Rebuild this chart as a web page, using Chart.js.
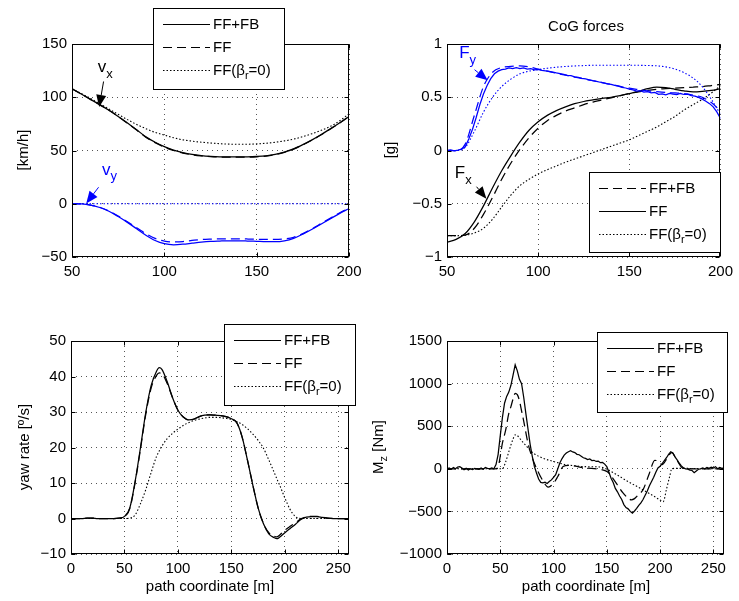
<!DOCTYPE html>
<html>
<head>
<meta charset="utf-8">
<script src="https://cdn.jsdelivr.net/npm/chart.js@4.4.0/dist/chart.umd.min.js"></script>
<style>
  html, body { margin: 0; padding: 0; background: #fff; }
  #fig { position: relative; width: 739px; height: 601px; overflow: hidden; background: #fff; }
  #fig canvas { position: absolute; }
</style>
</head>
<body>
<div id="fig">
  <canvas id="speed"  width="369" height="300" style="left:0;top:0"></canvas>
  <canvas id="forces" width="369" height="300" style="left:370px;top:0"></canvas>
  <canvas id="yaw"    width="369" height="300" style="left:0;top:300px"></canvas>
  <canvas id="moment" width="369" height="301" style="left:370px;top:300px"></canvas>
</div>
<script>
// ---------- path coordinates [m] ----------
const sTop = [50,55,60,65,70,75,80,85,90,95,100,105,110,115,120,125,130,135,140,145,150,155,160,165,170,175,180,185,190,195,200];

const sFine = [
  50,52,54,56,58,60,62,64,66,68,
  70,72,74,76,78,80,82,84,86,88,
  90,92,94,96,98,100,102,104,106,108,
  110,112,114,116,118,120,122,124,126,128,
  130,132,134,136,138,140,142,144,146,148,
  150,152,154,156,158,160,162,164,166,168,
  170,172,174,176,178,180,182,184,186,188,
  190,192,194,196,198,200
];

// ---------- vehicle speeds [km/h] ----------
const vxFFFB = [108,103,98,93,87.8,82,75.8,69.5,62.8,57.8,53.6,50.4,48,46.3,45.2,44.5,44.1,44,44,44.1,44.4,45,46.3,48.5,51.5,55.5,60,65,70.5,76,82];
const vxFF   = [108,103,98,93,87.8,82,75.6,69.2,62.5,57.4,53.2,50,47.6,46,44.9,44.2,43.8,43.7,43.7,43.8,44.1,44.8,46.1,48.3,51.3,55.3,59.8,64.8,70.3,75.8,81.8];
const vxFF0  = [108,103.5,99,94,89,84,79,74.5,70.5,67,64.5,62,60,58.8,57.8,57,56.4,56,55.8,55.9,56.2,56.8,57.7,59,60.7,63,65.8,69,72.7,78,84.5];
const vyFFFB = [0,-0.2,-1.2,-3.5,-7,-12,-17.5,-23.5,-29.5,-34.5,-37.5,-38.5,-38,-37,-36,-35.3,-35,-34.8,-34.8,-35,-35.3,-35.6,-35.6,-34.8,-32.5,-28.5,-24,-19,-14,-9,-4.5];
const vyFF   = [0,-0.2,-1.2,-3.3,-6.8,-11.5,-17,-22.5,-28,-32.5,-35,-35.8,-35.5,-34.5,-33.6,-33.2,-33,-33,-33,-33.1,-33.3,-33.5,-33.5,-33,-31.5,-28,-23.5,-18.5,-13.5,-8.5,-4];
const vyFF0  = [0,0,0,0,0,0,0,0,0,0,0,0,0,0,0,0,0,0,0,0,0,0,0,0,0,0,0,0,0,0,0];

// ---------- CoG forces [g] ----------
const FyFFFB = [0,0,0.06,0.33,0.6,0.735,0.78,0.79,0.795,0.785,0.765,0.745,0.725,0.707,0.69,0.672,0.655,0.637,0.62,0.602,0.585,0.572,0.56,0.552,0.545,0.54,0.535,0.52,0.5,0.45,0.37];
const FyFF = [
  0.000,0.006,-0.004,0.003,0.012,0.035,0.110,0.200,0.310,0.430,
  0.530,0.610,0.675,0.720,0.745,0.760,0.765,0.775,0.768,0.778,
  0.770,0.775,0.765,0.768,0.758,0.762,0.752,0.748,0.742,0.735,
  0.728,0.722,0.715,0.706,0.702,0.692,0.686,0.678,0.672,0.664,
  0.656,0.650,0.641,0.636,0.626,0.620,0.611,0.604,0.593,0.587,
  0.576,0.570,0.558,0.562,0.548,0.552,0.541,0.546,0.527,0.532,
  0.522,0.536,0.530,0.524,0.535,0.526,0.530,0.516,0.510,0.499,
  0.482,0.462,0.440,0.410,0.362,0.300
];
const FyFF0  = [0,0,0.03,0.18,0.36,0.5,0.6,0.67,0.72,0.745,0.76,0.772,0.782,0.789,0.794,0.797,0.8,0.8,0.8,0.8,0.8,0.8,0.798,0.795,0.785,0.765,0.73,0.68,0.6,0.48,0.34];
const FxFFFB = [-0.8,-0.8,-0.795,-0.73,-0.6,-0.44,-0.27,-0.12,0.01,0.12,0.21,0.28,0.33,0.37,0.4,0.43,0.455,0.475,0.495,0.515,0.535,0.55,0.565,0.575,0.58,0.585,0.59,0.595,0.6,0.61,0.62];
const FxFF   = [-0.86,-0.835,-0.78,-0.67,-0.52,-0.35,-0.19,-0.05,0.08,0.19,0.27,0.33,0.375,0.41,0.44,0.46,0.475,0.49,0.5,0.515,0.535,0.555,0.58,0.595,0.59,0.575,0.56,0.55,0.555,0.565,0.58];
const FxFF0  = [-0.8,-0.8,-0.795,-0.775,-0.73,-0.645,-0.53,-0.42,-0.33,-0.27,-0.22,-0.18,-0.145,-0.11,-0.08,-0.05,-0.02,0.01,0.04,0.07,0.1,0.14,0.18,0.22,0.27,0.32,0.38,0.43,0.48,0.54,0.61];

// ---------- yaw rate [º/s] ----------
const sYaw = [0,5,10,15,20,25,30,35,40,45,50,55,60,65,70,75,80,82.5,85,90,95,100,105,110,115,120,125,130,135,140,145,150,155,160,165,170,175,180,185,190,192.5,195,200,205,210,215,220,225,230,235,240,245,250,255,260];
const yawFFFB = [0,0,0,0.1,0.1,0,0,0,0,0.1,0.6,3,10.5,20,30,37.5,41.5,42.5,42,38.5,34,30.5,28.6,27.8,28,28.7,29.1,29.2,29.1,29,28.7,28.1,27,23,16.5,9.5,3,-1.5,-4.3,-5.4,-5.7,-5.3,-4,-2.8,-1.6,-0.3,0.4,0.5,0.5,0.3,0.1,0,0,0,0];
const yawFF   = [0,0,0,0.1,0.1,0,0,0,0,0.1,0.5,2.8,10.2,19.6,29.5,36.8,40.3,41,40.8,38,34,30.5,28.6,27.8,28,28.7,29.1,29.2,29.1,29,28.7,28.1,27,23,16.5,9.5,3,-1.4,-4,-5,-5.2,-4.7,-3.3,-2.2,-1.2,-0.1,0.4,0.6,0.6,0.4,0.1,0,0,0,0];
const yawFF0  = [0,0,0,0,0,0,0,0,0,0,0,0.1,1,4.2,8.2,13,17.5,19,20.4,22.5,24,25.2,26.2,27,27.6,28,28.3,28.5,28.5,28.4,28.2,27.9,27.3,26.5,25.3,23.8,22,19.8,16.5,13,11.2,9.5,5.8,2.5,0.5,0,0,0,0,0,0,0,0,0,0];

// ---------- yaw moment M_z [Nm] ----------
const sMz = [
  0,2,4,6,8,10,12,14,16,18,
  20,22,24,26,28,30,32,34,36,38,
  40,42,44,46,48,50,52,54,56,58,
  60,62,64,66,68,70,72,74,76,78,
  80,82,84,86,88,90,92,94,96,98,
  100,102,104,106,108,110,112,114,116,118,
  120,122,124,126,128,130,132,134,136,138,
  140,142,144,146,148,150,152,154,156,158,
  160,162,164,166,168,170,172,174,176,178,
  180,182,184,186,188,190,192,194,196,198,
  200,202,204,206,208,210,212,214,216,218,
  220,222,224,226,228,230,232,234,236,238,
  240,242,244,246,248,250,252,254,256,258,
  260
];
const MzFFFB = [
  0,10,-5,15,0,20,25,10,-10,5,
  -15,0,-10,5,0,-5,10,-5,15,5,
  0,10,0,50,170,390,600,770,850,900,
  980,1100,1220,1150,1050,1000,840,650,470,290,
  150,30,-50,-120,-160,-165,-158,-172,-150,-130,
  -100,-70,0,70,120,160,185,200,212,198,
  190,170,165,148,130,122,108,115,96,100,
  86,90,72,74,55,25,-40,-110,-160,-230,
  -270,-320,-360,-420,-455,-470,-500,-520,-495,-465,
  -430,-400,-360,-310,-260,-200,-150,-100,-40,10,
  30,60,95,130,170,200,185,140,105,65,
  35,10,0,-5,-15,-20,-45,-25,-5,0,
  10,0,15,5,20,10,25,0,15,5,
  10
];
const sMzFF = [0,45,48,50,52,55,58,60,62,64,66,68,70,72,76,80,85,90,95,100,104,109,114,130,150,155,160,165,170,173,176,180,184,190,195,198,202,206,211,215,220,225,260];
const MzFF  = [0,0,20,150,300,450,650,730,820,885,870,800,680,560,300,130,-20,-140,-215,-170,-90,27,40,10,-30,-100,-190,-280,-345,-365,-350,-300,-246,-51,100,90,50,110,190,120,20,0,0];
const sMzFF0 = [0,52,55,58,60,62,64,66,70,75,81,90,100,112,120,130,143,150,162,170,181,190,196,201,203,206,209,211,215,260];
const MzFF0  = [0,0,80,200,280,350,398,390,330,260,184,125,86,47,35,25,22,-5,-90,-150,-226,-290,-335,-375,-385,-240,-90,0,5,0];

// ---------- axis ticks ----------
const speedTicks  = [-50, 150, 50];
const forceTicks  = [-1, 1, 0.5];
const yawTicks    = [-10, 50, 10];
const momentTicks = [-1000, 1500, 500];
const topPathTicks = [50, 200, 50];
const pathTicks    = [0, 260, 50];

// ---------- styling ----------
const FONT = '"Liberation Sans", Arial, Helvetica, sans-serif';
const BLACK = '#000000', BLUE = '#0000ff';
const SOLID = [], DASHED = [9, 5], DOTTED = [1.5, 2];

Chart.defaults.font.family = FONT;
Chart.defaults.font.size = 15;
Chart.defaults.color = '#000';

function pts(xs, ys) { return xs.map((x, i) => ({ x: x, y: ys[i] })); }

function line(label, xs, ys, color, dash, smooth) {
  return {
    label: label, data: pts(xs, ys),
    borderColor: color, borderWidth: dash === DOTTED ? 1.1 : 1.25, borderDash: dash,
    pointRadius: 0, fill: false,
    cubicInterpolationMode: smooth ? 'monotone' : 'default',
    tension: 0
  };
}

const minusSign = v => String(v).replace('-', '\u2212');

function axis(range, fixed, isX, pad) {
  return {
    type: 'linear', min: range[0], max: range[1],
    ticks: { stepSize: range[2], includeBounds: false, autoSkip: false, maxRotation: 0,
             padding: pad, callback: minusSign, color: '#000', font: { size: 15 } },
    grid: { color: '#555555', lineWidth: 1, drawTicks: false },
    border: { display: false, dash: [1, 4] },
    afterFit: s => { if (isX) s.height = fixed; else s.width = fixed; }
  };
}

// ---------- text with one-letter subscripts written as "_x" ----------
function richParts(str) {
  const parts = []; let buf = '';
  for (let i = 0; i < str.length; i++) {
    if (str[i] === '_' && i + 1 < str.length) {
      if (buf) { parts.push({ t: buf }); buf = ''; }
      parts.push({ t: str[i + 1], sub: true }); i++;
    } else buf += str[i];
  }
  if (buf) parts.push({ t: buf });
  return parts;
}
function drawRich(ctx, str, x, y, size, color, align, subDrop) {
  const parts = richParts(str);
  const subSize = Math.round(size * 0.75);
  let w = 0;
  parts.forEach(p => { ctx.font = (p.sub ? subSize : size) + 'px ' + FONT; p.w = ctx.measureText(p.t).width; w += p.w; });
  let cx = align === 'center' ? x - w / 2 : (align === 'right' ? x - w : x);
  ctx.fillStyle = color; ctx.textBaseline = 'middle'; ctx.textAlign = 'left';
  parts.forEach(p => {
    ctx.font = (p.sub ? subSize : size) + 'px ' + FONT;
    ctx.fillText(p.t, cx, y + (p.sub ? (subDrop || size * 0.4) : 0));
    cx += p.w;
  });
}

// ---------- frame, legend, labels and arrows per panel ----------
const DECO = {
  speed: {
    legend: { x: 153, y: 8, w: 132, h: 82, items: [0, 1, 2] },
    yTitle: { text: '[km/h]', x: 24, y: 150 },
    notes: [
      { text: 'v_x', color: BLACK, at: [63.9, 127.7], from: [67.1, 114.8], to: [64.7, 90.8] },
      { text: 'v_y', color: BLUE,  at: [66.2, 31.8],  from: [64.4, 15.5],  to: [57.7, 0.3] }
    ]
  },
  forces: {
    title: { text: 'CoG forces', x: 216, y: 27 },
    legend: { x: 219, y: 172, w: 132, h: 81, items: [3, 4, 5] },
    yTitle: { text: '[g]', x: 21, y: 150 },
    notes: [
      { text: 'F_y', color: BLUE,  at: [56.7, 0.913], from: [65.1, 0.759], to: [72.3, 0.659] },
      { text: 'F_x', color: BLACK, at: [54.3, -0.212], from: [66.2, -0.34], to: [71.6, -0.452] }
    ]
  },
  yaw: {
    legend: { x: 224, y: 24, w: 132, h: 82, items: [0, 1, 2] },
    yTitle: { text: 'yaw rate [º/s]', x: 25, y: 147 },
    xTitle: { text: 'path coordinate [m]', x: 210, y: 287 },
    notes: []
  },
  moment: {
    legend: { x: 227, y: 32, w: 131, h: 81, items: [0, 1, 2] },
    yTitle: { text: 'M_z [Nm]', x: 9, y: 147 },
    xTitle: { text: 'path coordinate [m]', x: 216, y: 287 },
    notes: []
  }
};

function arrow(ctx, x0, y0, x1, y1, color) {
  const ang = Math.atan2(y1 - y0, x1 - x0), len = 12, half = 5;
  const bx = x1 - len * Math.cos(ang), by = y1 - len * Math.sin(ang);
  ctx.strokeStyle = color; ctx.fillStyle = color; ctx.lineWidth = 1; ctx.setLineDash([]);
  ctx.beginPath(); ctx.moveTo(x0, y0); ctx.lineTo(bx, by); ctx.stroke();
  ctx.beginPath();
  ctx.moveTo(x1, y1);
  ctx.lineTo(bx + half * Math.sin(ang), by - half * Math.cos(ang));
  ctx.lineTo(bx - half * Math.sin(ang), by + half * Math.cos(ang));
  ctx.closePath(); ctx.fill();
}

const decoPlugin = {
  id: 'deco',
  afterDatasetsDraw(chart) {
    const d = DECO[chart.canvas.id]; if (!d) return;
    const ctx = chart.ctx, a = chart.chartArea, xs = chart.scales.x, ys = chart.scales.y;
    const px = v => xs.getPixelForValue(v), py = v => ys.getPixelForValue(v);
    ctx.save();

    // arrows with their labels
    d.notes.forEach(n => {
      arrow(ctx, px(n.from[0]), py(n.from[1]), px(n.to[0]), py(n.to[1]), n.color);
      drawRich(ctx, n.text, px(n.at[0]), py(n.at[1]), 17, n.color, 'left', 7);
    });

    // axes box with inward ticks
    const L = Math.round(a.left) + 0.5, R = Math.round(a.right) - 0.5;
    const T = Math.round(a.top) + 0.5, B = Math.round(a.bottom) - 0.5;
    ctx.setLineDash([]); ctx.strokeStyle = '#000'; ctx.lineWidth = 1;
    ctx.strokeRect(L, T, R - L, B - T);
    ctx.beginPath();
    xs.ticks.forEach(t => {
      const p = Math.round(px(t.value)) + 0.5;
      ctx.moveTo(p, B); ctx.lineTo(p, B - 4); ctx.moveTo(p, T); ctx.lineTo(p, T + 4);
    });
    ys.ticks.forEach(t => {
      const p = Math.round(py(t.value)) + 0.5;
      ctx.moveTo(L, p); ctx.lineTo(L + 4, p); ctx.moveTo(R, p); ctx.lineTo(R - 4, p);
    });
    ctx.stroke();

    // legend box
    const lg = d.legend;
    ctx.fillStyle = '#fff';
    ctx.fillRect(lg.x, lg.y, lg.w, lg.h);
    ctx.strokeStyle = '#000'; ctx.lineWidth = 1;
    ctx.strokeRect(lg.x + 0.5, lg.y + 0.5, lg.w - 1, lg.h - 1);
    const rows = [16, 39, 62];
    lg.items.forEach((di, k) => {
      const ds = chart.data.datasets[di];
      const yy = Math.round(lg.y + rows[k]) + 0.5;
      ctx.strokeStyle = BLACK; ctx.lineWidth = 1.1; ctx.setLineDash(ds.borderDash);
      ctx.beginPath(); ctx.moveTo(lg.x + 10, yy); ctx.lineTo(lg.x + 57, yy); ctx.stroke();
      ctx.setLineDash([]);
      drawRich(ctx, ds.label, lg.x + 60, yy, 15, BLACK, 'left', 5);
    });

    // titles
    if (d.title) drawRich(ctx, d.title.text, d.title.x, d.title.y, 15, BLACK, 'center');
    if (d.xTitle) drawRich(ctx, d.xTitle.text, d.xTitle.x, d.xTitle.y, 15, BLACK, 'center');
    if (d.yTitle) {
      ctx.translate(d.yTitle.x, d.yTitle.y); ctx.rotate(-Math.PI / 2);
      drawRich(ctx, d.yTitle.text, 0, 0, 15, BLACK, 'center', 5);
    }
    ctx.restore();
  }
};

function makeChart(id, datasets, xr, yr, yWidth, pad) {
  return new Chart(document.getElementById(id), {
    type: 'line',
    data: { datasets: datasets },
    options: {
      responsive: false, animation: false, devicePixelRatio: 1,
      layout: { padding: pad },
      plugins: { legend: { display: false }, tooltip: { enabled: false } },
      scales: { x: axis(xr, 30, true, 6), y: axis(yr, yWidth, false, 5) }
    },
    plugins: [decoPlugin]
  });
}

makeChart('speed', [
  line('FF+FB', sTop, vxFFFB, BLACK, SOLID, true),
  line('FF', sTop, vxFF, BLACK, DASHED, true),
  line('FF(β_r=0)', sTop, vxFF0, BLACK, DOTTED, true),
  line('FF+FB', sTop, vyFFFB, BLUE, SOLID, true),
  line('FF', sTop, vyFF, BLUE, DASHED, true),
  line('FF(β_r=0)', sTop, vyFF0, BLUE, DOTTED, true)
], topPathTicks, speedTicks, 72, { left: 0, right: 20, top: 44, bottom: 13 });

makeChart('forces', [
  line('FF+FB', sTop, FyFFFB, BLUE, DASHED, true),
  line('FF', sFine, FyFF, BLUE, SOLID, false),
  line('FF(β_r=0)', sTop, FyFF0, BLUE, DOTTED, true),
  line('FF+FB', sTop, FxFFFB, BLACK, DASHED, true),
  line('FF', sTop, FxFF, BLACK, SOLID, true),
  line('FF(β_r=0)', sTop, FxFF0, BLACK, DOTTED, true)
], topPathTicks, forceTicks, 77, { left: 0, right: 15, top: 44, bottom: 13 });

makeChart('yaw', [
  line('FF+FB', sYaw, yawFFFB, BLACK, SOLID, true),
  line('FF', sYaw, yawFF, BLACK, DASHED, true),
  line('FF(β_r=0)', sYaw, yawFF0, BLACK, DOTTED, true)
], pathTicks, yawTicks, 71, { left: 0, right: 20, top: 41, bottom: 16 });

makeChart('moment', [
  line('FF+FB', sMz, MzFFFB, BLACK, SOLID, false),
  line('FF', sMzFF, MzFF, BLACK, DASHED, true),
  line('FF(β_r=0)', sMzFF0, MzFF0, BLACK, DOTTED, true)
], pathTicks, momentTicks, 77, { left: 0, right: 15, top: 41, bottom: 17 });
</script>
</body>
</html>
